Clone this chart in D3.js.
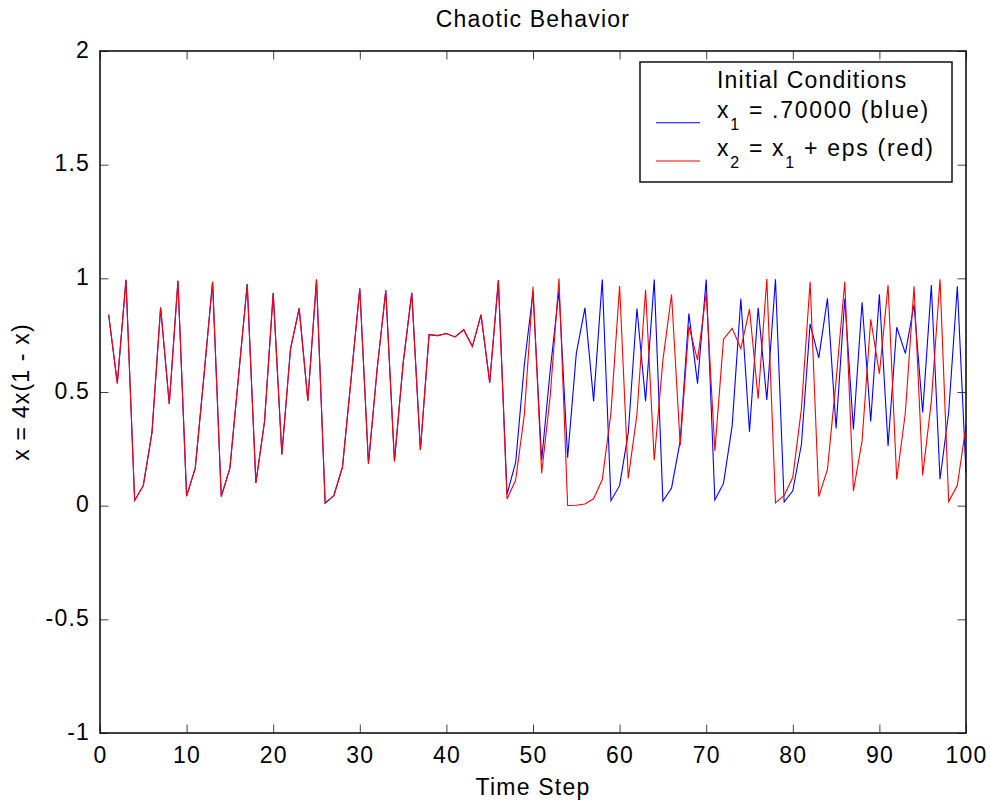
<!DOCTYPE html>
<html>
<head>
<meta charset="utf-8">
<script src="https://cdn.jsdelivr.net/npm/d3@7"></script>
<style>
  html, body { margin: 0; padding: 0; background: #fff; }
  svg text { font-family: "Liberation Sans", Arial, Helvetica, sans-serif; fill: #000; }
</style>
</head>
<body>
<svg id="chart" width="990" height="803"></svg>
<script>
// ---- data ----
const chartTitle = "Chaotic Behavior";
const xLabel = "Time Step";
const yLabel = "x = 4x(1 - x)";
const xTickValues = [0, 10, 20, 30, 40, 50, 60, 70, 80, 90, 100];
const yTickValues = [-1, -0.5, 0, 0.5, 1, 1.5, 2];
const yTickLabels = ["-1", "-0.5", "0", "0.5", "1", "1.5", "2"];

// steps 1..46, where both runs coincide
const sharedValues = [
  0.840, 0.538, 0.994, 0.023, 0.088, 0.321, 0.872, 0.447, 0.989, 0.042,
  0.165, 0.570, 0.985, 0.040, 0.165, 0.570, 0.975, 0.100, 0.370, 0.935,
  0.225, 0.690, 0.868, 0.462, 0.995, 0.011, 0.044, 0.170, 0.560, 0.955,
  0.185, 0.600, 0.947, 0.195, 0.625, 0.936, 0.245, 0.752, 0.748, 0.757,
  0.742, 0.774, 0.700, 0.840, 0.541, 0.991
];
// steps 47..100
const blueTail = [
  0.050, 0.190, 0.620, 0.940, 0.200, 0.600, 0.944, 0.211, 0.670, 0.870,
  0.460, 0.995, 0.022, 0.088, 0.320, 0.867, 0.460, 0.995, 0.020, 0.078,
  0.285, 0.845, 0.537, 0.995, 0.025, 0.098, 0.352, 0.910, 0.325, 0.870,
  0.465, 0.996, 0.016, 0.065, 0.270, 0.800, 0.650, 0.912, 0.340, 0.910,
  0.335, 0.895, 0.370, 0.930, 0.263, 0.785, 0.670, 0.885, 0.410, 0.970,
  0.116, 0.410, 0.965, 0.145
];
const redTail = [
  0.029, 0.113, 0.400, 0.963, 0.143, 0.487, 0.999, 0.0005, 0.002, 0.0075,
  0.030, 0.115, 0.407, 0.966, 0.120, 0.400, 0.950, 0.200, 0.640, 0.929,
  0.265, 0.790, 0.640, 0.935, 0.241, 0.732, 0.780, 0.690, 0.865, 0.470,
  0.997, 0.012, 0.045, 0.125, 0.428, 0.985, 0.040, 0.160, 0.550, 0.985,
  0.065, 0.285, 0.820, 0.580, 0.970, 0.115, 0.410, 0.965, 0.133, 0.460,
  0.996, 0.018, 0.090, 0.350
];
const blueValues = sharedValues.concat(blueTail);
const redValues = sharedValues.concat(redTail);

// ---- layout ----
const svg = d3.select("#chart");
const L = 100, R = 966, T = 51, B = 733;
const FS = 23, LS = 1.2;

const x = d3.scaleLinear().domain([0, 100]).range([L, R]);
const y = d3.scaleLinear().domain([-1, 2]).range([B, T]);

function styleText(sel, size, ls) {
  sel.attr("font-size", size || FS).attr("letter-spacing", ls == null ? LS : ls);
  return sel;
}

// ticks on all four sides (inward), via d3 axes
const tickLen = 8.5;
const axBottom = d3.axisBottom(x).tickValues(xTickValues).tickSize(-tickLen).tickFormat(d3.format("d")).tickPadding(14);
const axTop = d3.axisTop(x).tickValues(xTickValues).tickSize(-tickLen).tickFormat("");
const axLeft = d3.axisLeft(y).tickValues(yTickValues).tickSize(-tickLen).tickFormat((d, i) => yTickLabels[i]).tickPadding(20);
const axRight = d3.axisRight(y).tickValues(yTickValues).tickSize(-tickLen).tickFormat("");

function decorate(g) {
  g.select(".domain").remove();
  g.selectAll(".tick line").attr("stroke", "#444").attr("stroke-width", 1);
  g.selectAll(".tick text").attr("font-size", FS).attr("letter-spacing", LS)
    .attr("font-family", "'Liberation Sans', Arial, sans-serif").attr("fill", "#000");
}

const gB = svg.append("g").attr("transform", `translate(0,${B})`).call(axBottom).call(decorate);
gB.selectAll(".tick text").attr("dy", "0.71em").attr("y", 14);
svg.append("g").attr("transform", `translate(0,${T})`).call(axTop).call(decorate);
const gL = svg.append("g").attr("transform", `translate(${L},0)`).call(axLeft).call(decorate);
gL.selectAll(".tick text").attr("x", -10).attr("dy", 6);
svg.append("g").attr("transform", `translate(${R},0)`).call(axRight).call(decorate);

// data lines
const line = d3.line().x((d, i) => x(i + 1)).y(d => y(d));
svg.append("path").datum(blueValues).attr("d", line)
  .attr("fill", "none").attr("stroke", "#0000ff").attr("stroke-width", 1.1);
svg.append("path").datum(redValues).attr("d", line)
  .attr("fill", "none").attr("stroke", "#ff0000").attr("stroke-width", 1.1);

// frame
svg.append("rect").attr("x", L).attr("y", T).attr("width", R - L).attr("height", B - T)
  .attr("fill", "none").attr("stroke", "#111").attr("stroke-width", 1.6);

// title and axis labels
styleText(svg.append("text").attr("x", (L + R) / 2).attr("y", 27).attr("text-anchor", "middle").text(chartTitle));
styleText(svg.append("text").attr("x", (L + R) / 2).attr("y", 795).attr("text-anchor", "middle").text(xLabel));
styleText(svg.append("text").attr("transform", `translate(29,${(T + B) / 2}) rotate(-90)`)
  .attr("text-anchor", "middle").text(yLabel));

// legend
const leg = svg.append("g");
leg.append("rect").attr("x", 640).attr("y", 62).attr("width", 312).attr("height", 120)
  .attr("fill", "#fff").attr("stroke", "#111").attr("stroke-width", 1.5);
styleText(leg.append("text").attr("x", 717).attr("y", 88).text("Initial Conditions"));

const legendItems = [
  { color: "#0000ff", lineY: 122.7, baseY: 118, parts: [["x", 0], ["1", 1], [" = .70000 (blue)", 0]] },
  { color: "#ff0000", lineY: 161, baseY: 156, parts: [["x", 0], ["2", 1], [" = x", 0], ["1", 1], [" + eps (red)", 0]] }
];
legendItems.forEach(item => {
  leg.append("line").attr("x1", 656).attr("x2", 700).attr("y1", item.lineY).attr("y2", item.lineY)
    .attr("stroke", item.color).attr("stroke-width", 1.1);
  const t = styleText(leg.append("text").attr("x", 717).attr("y", item.baseY), FS, 1.7).style("white-space", "pre");
  let sub = false;
  item.parts.forEach(([s, isSub]) => {
    const ts = t.append("tspan").text(s);
    if (isSub && !sub) { ts.attr("dy", 12).attr("font-size", 16); sub = true; }
    else if (!isSub && sub) { ts.attr("dy", -12).attr("font-size", FS); sub = false; }
    else if (isSub) { ts.attr("font-size", 16); }
  });
});
</script>
</body>
</html>
